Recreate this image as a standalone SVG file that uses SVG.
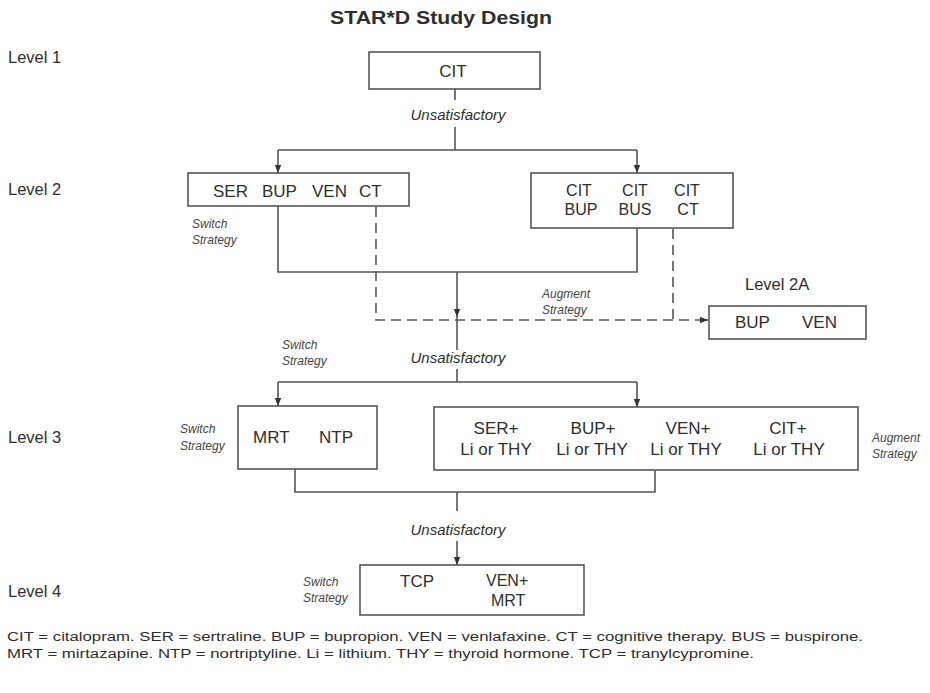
<svg xmlns="http://www.w3.org/2000/svg" width="930" height="693" viewBox="0 0 930 693">
<style>
text{font-family:"Liberation Sans",Arial,Helvetica,sans-serif;fill:#2e2e2e}
.t{font-size:17px}
.t2{font-size:16px}
.lv{font-size:16.5px}
.u{font-size:15px;font-style:italic}
.s{font-size:12px;font-style:italic;fill:#444}
.f{font-size:12.5px}
.box{fill:#fff;stroke:#555;stroke-width:1.6}
.ln{fill:none;stroke:#555;stroke-width:1.6}
.ds{fill:none;stroke:#555;stroke-width:1.6;stroke-dasharray:10 6}
</style>
<defs>
<marker id="ah" viewBox="0 0 10 10" refX="10" refY="5" markerWidth="8" markerHeight="8" markerUnits="userSpaceOnUse" orient="auto">
<path d="M0,1 L10,5 L0,9 z" fill="#333"/>
</marker>
</defs>
<rect width="930" height="693" fill="#fff"/>
<text x="441" y="24" text-anchor="middle" style="font-size:18px;font-weight:bold" textLength="222" lengthAdjust="spacingAndGlyphs">STAR*D Study Design</text>
<g id="levels">
<text class="lv" x="8" y="63">Level 1</text>
<text class="lv" x="8" y="195">Level 2</text>
<text class="lv" x="8" y="443">Level 3</text>
<text class="lv" x="8" y="597">Level 4</text>
</g>
<g id="connectors">
<path class="ln" d="M455,89 V100"/>
<text class="u" x="458" y="120" text-anchor="middle">Unsatisfactory</text>
<path class="ln" d="M455,127 V150"/>
<path class="ln" d="M278,150 H637"/>
<path class="ln" d="M278,150 V173" marker-end="url(#ah)"/>
<path class="ln" d="M637,150 V173" marker-end="url(#ah)"/>
<path class="ln" d="M278,206 V272 H637 V228"/>
<path class="ln" d="M457,272 V317" marker-end="url(#ah)"/>
<path class="ln" d="M457,317 V350"/>
<path class="ds" d="M376,207 V320 H700"/>
<path class="ds" d="M673,229 V320"/>
<path class="ln" d="M700,320 H708" marker-end="url(#ah)"/>
<text class="u" x="458" y="363" text-anchor="middle">Unsatisfactory</text>
<path class="ln" d="M457,369 V382"/>
<path class="ln" d="M278,382 H637"/>
<path class="ln" d="M278,382 V406" marker-end="url(#ah)"/>
<path class="ln" d="M637,382 V407" marker-end="url(#ah)"/>
<path class="ln" d="M295,469 V492 H655 V470"/>
<path class="ln" d="M457,492 V511"/>
<text class="u" x="458" y="535" text-anchor="middle">Unsatisfactory</text>
<path class="ln" d="M457,541 V565" marker-end="url(#ah)"/>
</g>
<g id="cit">
<rect class="box" x="369" y="52" width="171" height="37"/>
<text class="t" x="453" y="77" text-anchor="middle">CIT</text>
</g>
<g id="level2-switch">
<rect class="box" x="188" y="173" width="221" height="33"/>
<text class="t" x="213" y="197">SER</text>
<text class="t" x="262" y="197">BUP</text>
<text class="t" x="312" y="197">VEN</text>
<text class="t" x="359" y="197">CT</text>
<text class="s" x="192" y="228">Switch</text>
<text class="s" x="192" y="244">Strategy</text>
</g>
<g id="level2-augment">
<rect class="box" x="531" y="173" width="202" height="55"/>
<text class="t2" x="579" y="196" text-anchor="middle">CIT</text>
<text class="t2" x="635" y="196" text-anchor="middle">CIT</text>
<text class="t2" x="687" y="196" text-anchor="middle">CIT</text>
<text class="t2" x="581" y="215" text-anchor="middle">BUP</text>
<text class="t2" x="635" y="215" text-anchor="middle">BUS</text>
<text class="t2" x="688" y="215" text-anchor="middle">CT</text>
<text class="s" x="542" y="298">Augment</text>
<text class="s" x="542" y="314">Strategy</text>
</g>
<g id="level2a">
<text class="lv" x="745" y="290">Level 2A</text>
<rect class="box" x="709" y="306" width="157" height="33"/>
<text class="t" x="735" y="328">BUP</text>
<text class="t" x="802" y="328">VEN</text>
</g>
<g id="level3-switch">
<text class="s" x="282" y="349">Switch</text>
<text class="s" x="282" y="365">Strategy</text>
<rect class="box" x="238" y="406" width="139" height="63"/>
<text class="t" x="253" y="443">MRT</text>
<text class="t" x="319" y="443">NTP</text>
<text class="s" x="180" y="433">Switch</text>
<text class="s" x="180" y="450">Strategy</text>
</g>
<g id="level3-augment">
<rect class="box" x="434" y="407" width="424" height="63"/>
<text class="t" x="496" y="434" text-anchor="middle">SER+</text>
<text class="t" x="496" y="455" text-anchor="middle">Li or THY</text>
<text class="t" x="593" y="434" text-anchor="middle">BUP+</text>
<text class="t" x="592" y="455" text-anchor="middle">Li or THY</text>
<text class="t" x="688" y="434" text-anchor="middle">VEN+</text>
<text class="t" x="686" y="455" text-anchor="middle">Li or THY</text>
<text class="t" x="788" y="434" text-anchor="middle">CIT+</text>
<text class="t" x="789" y="455" text-anchor="middle">Li or THY</text>
<text class="s" x="872" y="442">Augment</text>
<text class="s" x="872" y="458">Strategy</text>
</g>
<g id="level4">
<text class="s" x="303" y="586">Switch</text>
<text class="s" x="303" y="602">Strategy</text>
<rect class="box" x="360" y="565" width="224" height="50"/>
<text class="t" x="400" y="587">TCP</text>
<text class="t2" x="486" y="586">VEN+</text>
<text class="t2" x="491" y="606">MRT</text>
</g>
<g id="legend">
<text class="f" x="7" y="641" textLength="856" lengthAdjust="spacingAndGlyphs">CIT = citalopram.  SER = sertraline.  BUP = bupropion.  VEN = venlafaxine.  CT = cognitive therapy.  BUS = buspirone.</text>
<text class="f" x="7" y="658" textLength="747" lengthAdjust="spacingAndGlyphs">MRT = mirtazapine.  NTP = nortriptyline.  Li = lithium.  THY = thyroid hormone.  TCP = tranylcypromine.</text>
</g>
</svg>
